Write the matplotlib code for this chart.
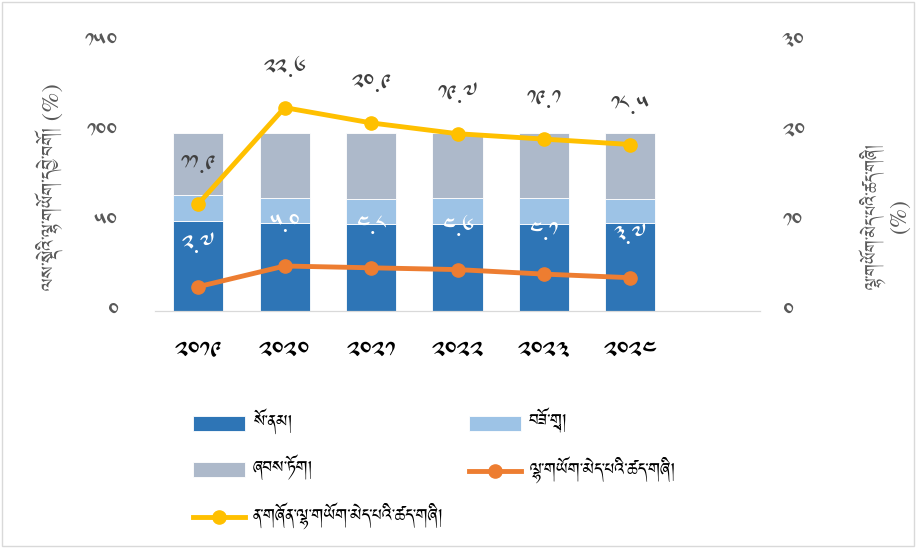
import matplotlib
matplotlib.use("Agg")
import numpy as np
import matplotlib.pyplot as plt
from matplotlib.patches import Rectangle

TIB = ['Jomolhari', 'Noto Serif Tibetan', 'DejaVu Sans']
plt.rcParams['font.family'] = TIB

# data
years = ['2019', '2020', '2021', '2022', '2023', '2024']
farming = [50.2, 49.1, 48.3, 48.5, 48.5, 48.9]
industry = [14.1, 13.5, 13.9, 14.1, 14.1, 13.2]
services = [34.4, 36.1, 36.5, 36.5, 36.5, 37.0]
unemp = [2.7, 5.0, 4.8, 4.6, 4.1, 3.7]
youth_unemp = [11.9, 22.6, 20.9, 19.7, 19.1, 18.5]

lbl_farm = 'སོ་ནམ།'
lbl_ind = 'བཟོ་གྲྭ།'
lbl_serv = 'ཞབས་ཏོག།'
lbl_unemp = 'ལྷ་གཡོག་མེད་པའི་ཚད་གཞི།'
lbl_youth = 'ན་གཞོན་ལྷ་གཡོག་མེད་པའི་ཚད་གཞི།'
ylab_left = 'ལས་སྡེའི་ལྷ་གཡོག་དབྱེ་བགོ། (%)'
ylab_right = 'ལྷ་གཡོག་མེད་པའི་ཚད་གཞི།\n(%)'

tib = str.maketrans('0123456789', '༠༡༢༣༤༥༦༧༨༩')


def t(s):
    return str(s).translate(tib)


c_dark = '#2E75B6'
c_light = '#9DC3E6'
c_gray = '#ADB9CA'
c_orange = '#ED7D31'
c_yellow = '#FFC000'
c_text = '#595959'

fig = plt.figure(figsize=(9.17, 5.48), dpi=100)
ax = fig.add_axes([155 / 917, 1 - 311 / 548, 605 / 917, 270 / 548])
ax2 = ax.twinx()

x = np.arange(len(years))
w = 0.58
b1 = np.array(farming)
b2 = b1 + np.array(industry)
ax.bar(x, farming, w, color=c_dark, edgecolor='white', linewidth=0.6, label=lbl_farm)
ax.bar(x, industry, w, bottom=b1, color=c_light, edgecolor='white', linewidth=0.6, label=lbl_ind)
ax.bar(x, services, w, bottom=b2, color=c_gray, edgecolor='white', linewidth=0.6, label=lbl_serv)

ax.set_xlim(-0.5, 6.5)
ax.set_ylim(0, 150)
ax.set_yticks([0, 50, 100, 150])
ax.set_yticklabels([t(v) for v in [0, 50, 100, 150]], color=c_text, fontsize=17)
ax.set_xticks(x)
ax.set_xticklabels([t(y) for y in years], fontsize=19, fontweight='bold', color='black')
ax.tick_params(axis='x', length=0, pad=21)
ax.tick_params(axis='y', length=0, pad=27)

ax2.set_ylim(0, 30)
ax2.set_yticks([0, 10, 20, 30])
ax2.set_yticklabels([t(v) for v in [0, 10, 20, 30]], color=c_text, fontsize=17)
ax2.tick_params(axis='y', length=0, pad=16)

l1, = ax2.plot(x, unemp, color=c_orange, lw=3.5, marker='o', ms=9.5, label=lbl_unemp)
l2, = ax2.plot(x, youth_unemp, color=c_yellow, lw=3.5, marker='o', ms=9.5, label=lbl_youth)

for xi, v in zip(x, unemp):
    ax2.annotate(t('%.1f' % v), (xi, v), xytext=(0, 29), textcoords='offset points',
                 ha='center', va='center', color='white', fontsize=17, fontweight='bold')
for xi, v in zip(x, youth_unemp):
    ax2.annotate(t('%.1f' % v), (xi, v), xytext=(0, 27), textcoords='offset points',
                 ha='center', va='center', color='#404040', fontsize=17, fontweight='bold')

for a in (ax, ax2):
    for s in ['top', 'left', 'right']:
        a.spines[s].set_visible(False)
    a.spines['bottom'].set_color('#d9d9d9')

fig.text(50 / 917, 1 - 187 / 548, ylab_left, rotation=90, ha='center', va='center',
         color=c_text, fontsize=16)
fig.text(885 / 917, 1 - 216 / 548, ylab_right, rotation=90, ha='center', va='center',
         color=c_text, fontsize=15, multialignment='center')

# legend, rows: farming/industry, services/unemployment, youth
handles = [ax.containers[0], ax.containers[2], l2, ax.containers[1], l1]
labels = [lbl_farm, lbl_serv, lbl_youth, lbl_ind, lbl_unemp]
fig.legend(handles, labels, loc='upper left', bbox_to_anchor=(174 / 917, 1 - 391 / 548),
           ncol=2, frameon=False, fontsize=15, handlelength=2.5, handleheight=0.7,
           labelspacing=1.0, columnspacing=1.2, handletextpad=0.4)

fig.patches.append(Rectangle((0.002, 0.003), 0.995, 0.994, transform=fig.transFigure,
                             fill=False, edgecolor='#d9d9d9', lw=1))

fig.savefig('out.png', dpi=100)
